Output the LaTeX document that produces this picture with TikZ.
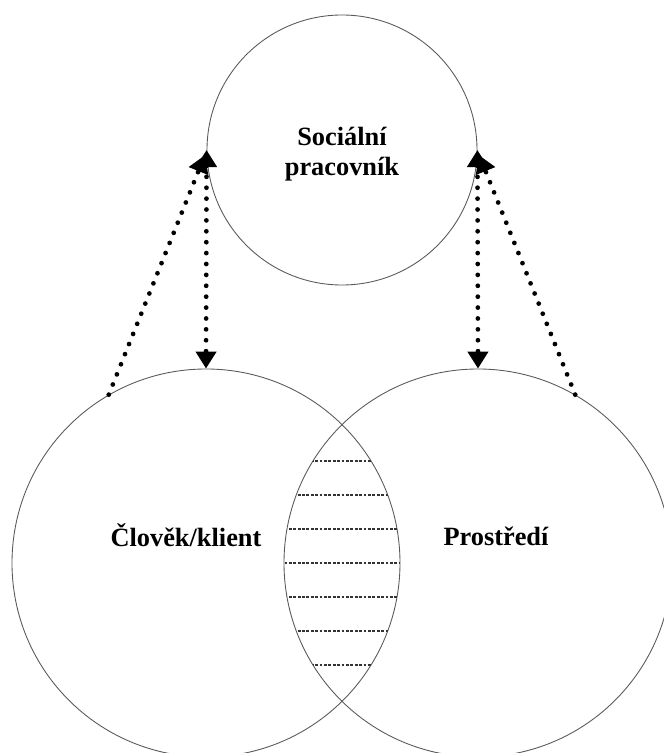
\documentclass[tikz,border=0pt]{standalone}
\usepackage{fontspec}
\setmainfont{Liberation Serif}
\usepackage{tikz}
\usetikzlibrary{arrows.meta,positioning}

\begin{document}
\begin{tikzpicture}[
bigcircle/.style={circle, draw=black!65, line width=0.5pt, inner sep=0pt},
circlelabel/.style={font=\fontsize{15}{17}\selectfont\bfseries, align=center},
dotline/.style={line width=2.7pt, line cap=round, dash pattern=on 0pt off 6.2pt},
arrowtip/.style={-{Triangle[length=3.4mm, width=4mm]}},
twotips/.style={{Triangle[length=3.4mm, width=4mm]}-{Triangle[length=3.4mm, width=4mm]}},
hatchline/.style={draw=black!80, line width=0.7pt, dash pattern=on 1.6pt off 0.9pt}
]
\useasboundingbox (0,0) rectangle (13.28,15.06);

%Nodes
\node[bigcircle, minimum size=5.4cm]  (worker)      at (6.84,12.06) {};
\node[bigcircle, minimum size=7.76cm] (client)      at (4.12,3.80)  {};
\node[bigcircle, minimum size=7.76cm] (environment) at (9.56,3.80)  {};

\node[circlelabel] (workertext)      at (6.84,11.98) {Sociální\\pracovník};
\node[circlelabel] (clienttext)      at (3.72,4.36) {Člověk/klient};
\node[circlelabel] (environmenttext) at (9.92,4.33) {Prostředí};

%Overlap
\begin{scope}
\clip (client.center) circle (3.88);
\clip (environment.center) circle (3.88);
\foreach \k in {-3,...,3}
  \draw[hatchline] (2,3.80+0.68*\k) -- (11,3.80+0.68*\k);
\end{scope}

%Lines
\draw[dotline, arrowtip] (client.120) -- ([xshift=-1pt,yshift=-3pt]worker.west);
\draw[dotline, twotips] (worker.west) -- (client.north);
\draw[dotline, arrowtip] (environment.60) -- ([xshift=1pt,yshift=-3pt]worker.east);
\draw[dotline, twotips] (worker.east) -- (environment.north);

\end{tikzpicture}
\end{document}
